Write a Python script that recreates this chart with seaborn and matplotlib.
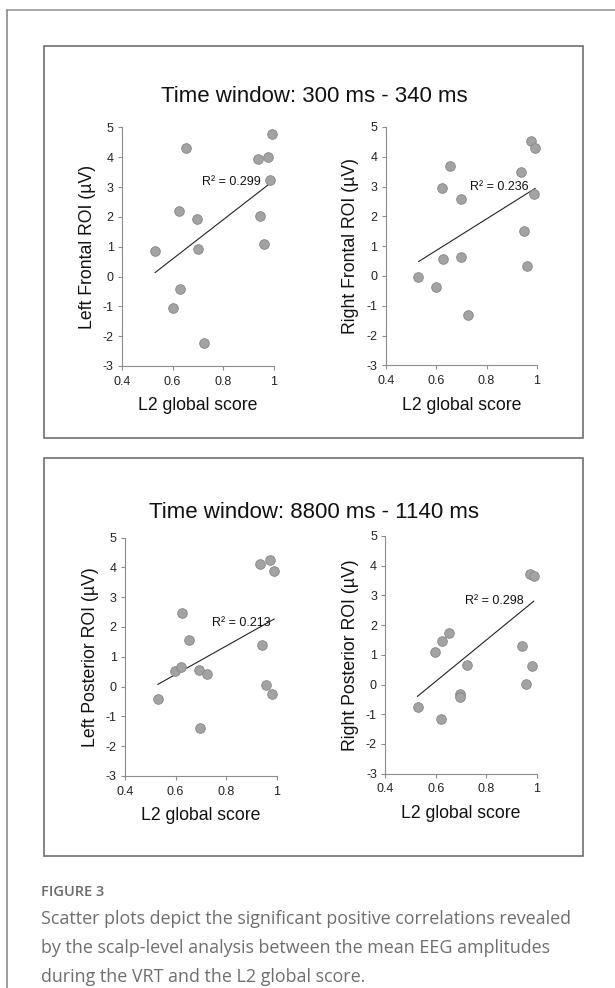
import numpy as np
import pandas as pd
import matplotlib
matplotlib.use('Agg')
import matplotlib.pyplot as plt
from matplotlib.patches import Rectangle
from matplotlib.lines import Line2D
import seaborn as sns

# values
lf_x = [0.532, 0.600, 0.624, 0.629, 0.653, 0.697, 0.700, 0.725, 0.938, 0.946, 0.961, 0.978, 0.986, 0.992]
lf_y = [0.87, -1.07, 2.21, -0.42, 4.31, 1.94, 0.92, -2.22, 3.96, 2.02, 1.09, 4.00, 3.24, 4.78]

rf_x = [0.530, 0.600, 0.622, 0.627, 0.654, 0.697, 0.699, 0.725, 0.938, 0.947, 0.960, 0.977, 0.993, 0.987]
rf_y = [-0.05, -0.38, 2.94, 0.58, 3.69, 2.59, 0.63, -1.31, 3.49, 1.51, 0.35, 4.54, 4.30, 2.74]

lp_x = [0.529, 0.597, 0.621, 0.626, 0.653, 0.693, 0.722, 0.697, 0.932, 0.971, 0.987, 0.941, 0.955, 0.980]
lp_y = [-0.42, 0.52, 0.66, 2.46, 1.57, 0.57, 0.42, -1.38, 4.10, 4.25, 3.88, 1.38, 0.06, -0.25]

rp_x = [0.528, 0.597, 0.623, 0.651, 0.621, 0.695, 0.696, 0.722, 0.942, 0.956, 0.983, 0.972, 0.989]
rp_y = [-0.74, 1.08, 1.45, 1.72, -1.16, -0.31, -0.42, 0.66, 1.31, 0.02, 0.64, 3.72, 3.67]

# linear trend lines (end points as drawn in the figure)
lf_fit_x, lf_fit_y = [0.530, 0.985], [0.13, 3.13]
rf_fit_x, rf_fit_y = [0.530, 0.993], [0.48, 2.94]
lp_fit_x, lp_fit_y = [0.529, 0.990], [0.07, 2.27]
rp_fit_x, rp_fit_y = [0.527, 0.989], [-0.40, 2.81]

ylabels = ['Left Frontal ROI (µV)', 'Right Frontal ROI (µV)',
           'Left Posterior ROI (µV)', 'Right Posterior ROI (µV)']
r2_labels = ['R² = 0.299', 'R² = 0.236', 'R² = 0.213', 'R² = 0.298']
titles = ['Time window: 300 ms - 340 ms', 'Time window: 8800 ms - 1140 ms']
xlabel = 'L2 global score'
xticks = [0.4, 0.6, 0.8, 1.0]
xticklabels = ['0.4', '0.6', '0.8', '1']
yticks = [-3, -2, -1, 0, 1, 2, 3, 4, 5]

caption_head = 'FIGURE 3'
caption_lines = ['Scatter plots depict the significant positive correlations revealed',
                 'by the scalp-level analysis between the mean EEG amplitudes',
                 'during the VRT and the L2 global score.']

sns.set_style('white')
plt.rcParams['font.family'] = ['Liberation Sans', 'DejaVu Sans']
plt.rcParams['axes.unicode_minus'] = False

W, H = 615, 988
fig = plt.figure(figsize=(W / 100, H / 100), dpi=100)


def px_box(x0, x1, y0, y1):
    # pixel box (top-left origin) -> figure fraction rect
    return [x0 / W, (H - y1) / H, (x1 - x0) / W, (y1 - y0) / H]


# outer page lines
fig.add_artist(Line2D([7 / W, 1], [1 - 10 / H, 1 - 10 / H], color='#9a9a9a', lw=1.2))
fig.add_artist(Line2D([7 / W, 7 / W], [0, 1 - 10 / H], color='#8a8a8a', lw=1.2))

# panel boxes
for (y0, y1) in [(46, 438), (458, 856)]:
    fig.add_artist(Rectangle((44 / W, (H - y1) / H), (583 - 44) / W, (y1 - y0) / H,
                             fill=False, edgecolor='#6f6f6f', lw=1.2))

fig.text(314 / W, 1 - 97 / H, titles[0], ha='center', va='center', fontsize=16, color='#111111')
fig.text(314 / W, 1 - 512 / H, titles[1], ha='center', va='center', fontsize=16, color='#111111')

rects = [px_box(122, 274, 127.5, 366), px_box(385.7, 537, 127, 365.3),
         px_box(125, 277, 537.5, 776), px_box(385.3, 536.7, 536, 773.7)]
data = [(lf_x, lf_y), (rf_x, rf_y), (lp_x, lp_y), (rp_x, rp_y)]
fits = [(lf_fit_x, lf_fit_y), (rf_fit_x, rf_fit_y), (lp_fit_x, lp_fit_y), (rp_fit_x, rp_fit_y)]
r2_pos = [(0.947, 3.18), (0.965, 2.97), (0.974, 2.14), (0.947, 2.80)]

for i, rect in enumerate(rects):
    ax = fig.add_axes(rect)
    df = pd.DataFrame({'x': data[i][0], 'y': data[i][1]})
    sns.lineplot(x=fits[i][0], y=fits[i][1], ax=ax, color='#222222', lw=0.8)
    sns.scatterplot(data=df, x='x', y='y', ax=ax, s=48, color='#a3a3a3',
                    edgecolor='#858585', linewidth=0.6, zorder=3, clip_on=False)
    ax.text(r2_pos[i][0], r2_pos[i][1], r2_labels[i], ha='right', va='center',
            fontsize=9, color='#111111')
    ax.set_xlim(0.4, 1.0)
    ax.set_ylim(-3, 5)
    ax.set_xticks(xticks)
    ax.set_xticklabels(xticklabels)
    ax.set_yticks(yticks)
    ax.set_xlabel(xlabel, fontsize=12.7, labelpad=7, color='#111111')
    ax.set_ylabel(ylabels[i], fontsize=12.7, labelpad=5, color='#111111')
    ax.tick_params(axis='both', which='both', direction='out', length=3, width=0.8,
                   color='#8c8c8c', labelsize=9, labelcolor='#222222', pad=3,
                   left=True, bottom=True)
    ax.tick_params(axis='x', pad=4)
    sns.despine(ax=ax)
    for sp in ['left', 'bottom']:
        ax.spines[sp].set_color('#8c8c8c')
        ax.spines[sp].set_linewidth(0.8)
    ax.set_facecolor('none')
    ax.grid(False)

fig.text(41 / W, 1 - 892 / H, caption_head, ha='left', va='center', fontsize=10.5,
         family=['Open Sans', 'DejaVu Sans'], weight='semibold', color='#6b6b6b')
for j, line in enumerate(caption_lines):
    fig.text(41 / W, 1 - (919 + 29 * j) / H, line, ha='left', va='center', fontsize=12.85,
             family=['Open Sans', 'DejaVu Sans'], color='#6e6e6e')

fig.savefig('out.png', dpi=100)
